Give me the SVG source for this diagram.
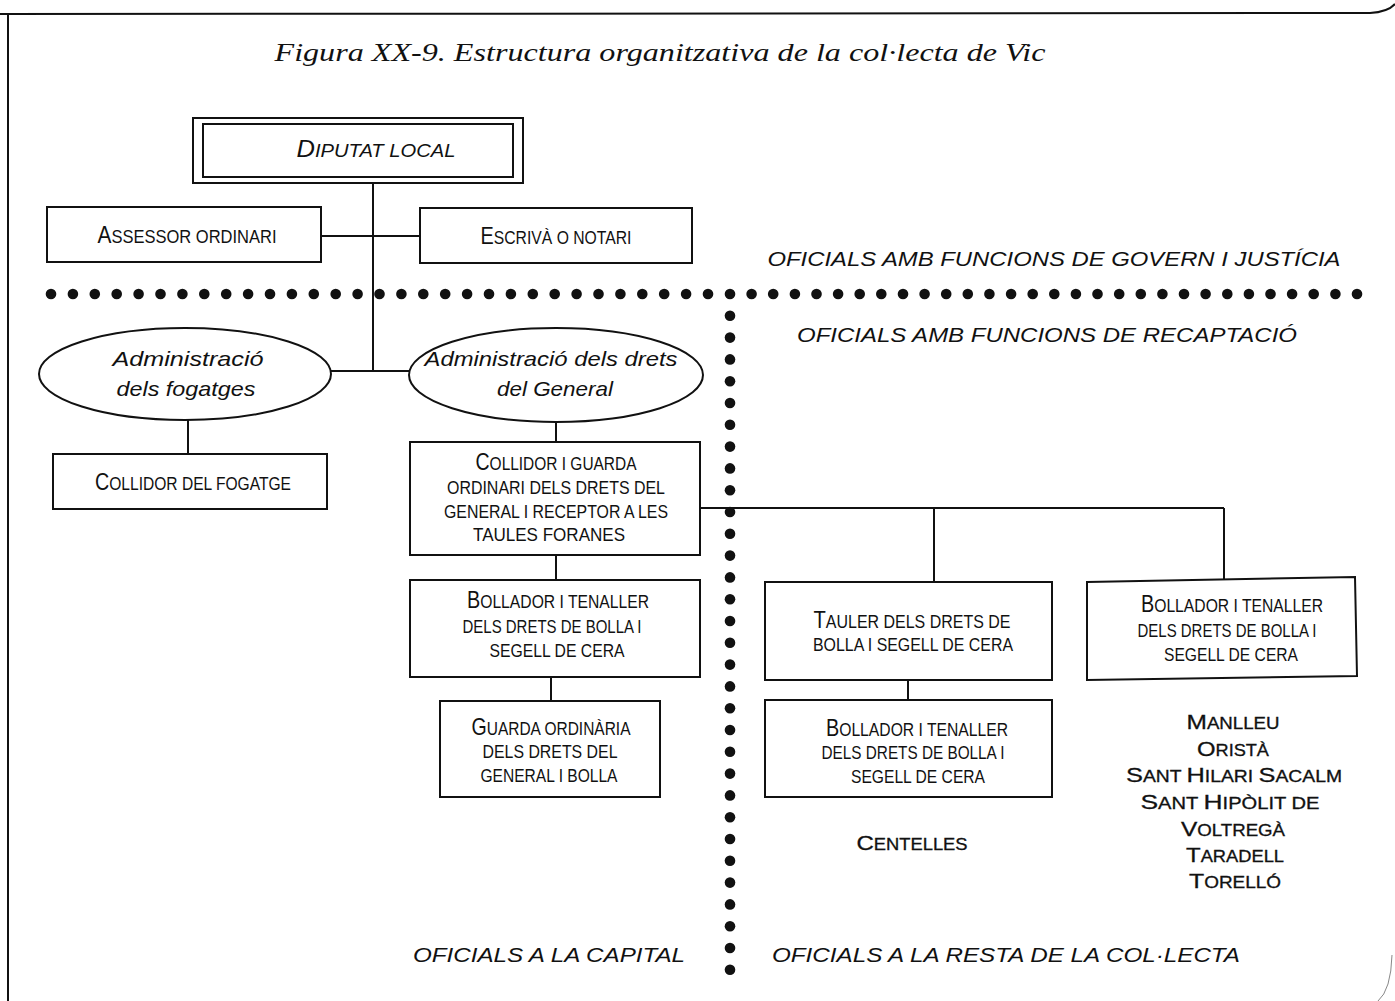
<svg xmlns="http://www.w3.org/2000/svg" width="1395" height="1001" viewBox="0 0 1395 1001">
<style>
.bx{fill:#fff;stroke:#111;stroke-width:2}
.ln{fill:none;stroke:#111;stroke-width:2}
.sc{font-family:"Liberation Sans Narrow","Liberation Sans",sans-serif;font-size:19px;fill:#111;text-anchor:middle}
.sc .B{font-size:24px}
.tw{font-family:"Liberation Sans",Arial,sans-serif;font-size:16px;fill:#111;text-anchor:middle;stroke:#111;stroke-width:0.3}
.tw .B{font-size:21px}
.it{font-family:"Liberation Sans",Arial,sans-serif;font-style:italic;font-size:21px;fill:#111;text-anchor:middle}
.ttl{font-family:"Liberation Serif","Times New Roman",serif;font-style:italic;font-size:26px;fill:#111;text-anchor:middle}
.dot{fill:#111}
</style>
<defs>
<circle id="d" r="5.3" class="dot"/>
</defs>
<rect width="1395" height="1001" fill="#fff"/>
<g id="frame">
<path class="ln" d="M0,14 L1370,13 Q1388,12 1395,4"/>
<path class="ln" d="M8,14 V1001"/>
<path fill="none" stroke="#888" stroke-width="1" d="M1392,955 Q1391,990 1378,1001"/>
</g>
<text class="ttl" x="660" y="61" textLength="771" lengthAdjust="spacingAndGlyphs">Figura XX-9. Estructura organitzativa de la col·lecta de Vic</text>
<g id="separators">
<g id="hdots">
<use href="#d" x="51" y="294"/><use href="#d" x="72.9" y="294"/><use href="#d" x="94.8" y="294"/><use href="#d" x="116.7" y="294"/><use href="#d" x="138.6" y="294"/><use href="#d" x="160.5" y="294"/><use href="#d" x="182.4" y="294"/><use href="#d" x="204.3" y="294"/><use href="#d" x="226.2" y="294"/><use href="#d" x="248.1" y="294"/><use href="#d" x="270" y="294"/><use href="#d" x="291.9" y="294"/><use href="#d" x="313.8" y="294"/><use href="#d" x="335.7" y="294"/><use href="#d" x="357.6" y="294"/><use href="#d" x="379.5" y="294"/><use href="#d" x="401.4" y="294"/><use href="#d" x="423.3" y="294"/><use href="#d" x="445.2" y="294"/><use href="#d" x="467.1" y="294"/><use href="#d" x="489" y="294"/><use href="#d" x="510.9" y="294"/><use href="#d" x="532.8" y="294"/><use href="#d" x="554.7" y="294"/><use href="#d" x="576.6" y="294"/><use href="#d" x="598.5" y="294"/><use href="#d" x="620.4" y="294"/><use href="#d" x="642.3" y="294"/><use href="#d" x="664.2" y="294"/><use href="#d" x="686.1" y="294"/><use href="#d" x="708" y="294"/><use href="#d" x="730" y="294"/>
<use href="#d" x="751.6" y="294"/><use href="#d" x="773.2" y="294"/><use href="#d" x="794.9" y="294"/><use href="#d" x="816.5" y="294"/><use href="#d" x="838.1" y="294"/><use href="#d" x="859.7" y="294"/><use href="#d" x="881.3" y="294"/><use href="#d" x="903" y="294"/><use href="#d" x="924.6" y="294"/><use href="#d" x="946.2" y="294"/><use href="#d" x="967.8" y="294"/><use href="#d" x="989.4" y="294"/><use href="#d" x="1011.1" y="294"/><use href="#d" x="1032.7" y="294"/><use href="#d" x="1054.3" y="294"/><use href="#d" x="1075.9" y="294"/><use href="#d" x="1097.5" y="294"/><use href="#d" x="1119.2" y="294"/><use href="#d" x="1140.8" y="294"/><use href="#d" x="1162.4" y="294"/><use href="#d" x="1184" y="294"/><use href="#d" x="1205.6" y="294"/><use href="#d" x="1227.3" y="294"/><use href="#d" x="1248.9" y="294"/><use href="#d" x="1270.5" y="294"/><use href="#d" x="1292.1" y="294"/><use href="#d" x="1313.7" y="294"/><use href="#d" x="1335.4" y="294"/><use href="#d" x="1357" y="294"/>
</g>
<g id="vdots">
<use href="#d" x="730" y="315.8"/><use href="#d" x="730" y="337.6"/><use href="#d" x="730" y="359.4"/><use href="#d" x="730" y="381.2"/><use href="#d" x="730" y="403"/><use href="#d" x="730" y="424.8"/><use href="#d" x="730" y="446.6"/><use href="#d" x="730" y="468.4"/><use href="#d" x="730" y="490.2"/><use href="#d" x="730" y="512"/><use href="#d" x="730" y="533.8"/><use href="#d" x="730" y="555.6"/><use href="#d" x="730" y="577.4"/><use href="#d" x="730" y="599.2"/><use href="#d" x="730" y="621"/><use href="#d" x="730" y="642.8"/><use href="#d" x="730" y="664.6"/><use href="#d" x="730" y="686.4"/><use href="#d" x="730" y="708.2"/><use href="#d" x="730" y="730"/><use href="#d" x="730" y="751.8"/><use href="#d" x="730" y="773.6"/><use href="#d" x="730" y="795.4"/><use href="#d" x="730" y="817.2"/><use href="#d" x="730" y="839"/><use href="#d" x="730" y="860.8"/><use href="#d" x="730" y="882.6"/><use href="#d" x="730" y="904.4"/><use href="#d" x="730" y="926.2"/><use href="#d" x="730" y="948"/><use href="#d" x="730" y="969.8"/>
</g>
</g>
<g id="connectors">
<path class="ln" d="M373,183 V371"/>
<path class="ln" d="M321,236 H420"/>
<path class="ln" d="M331,371 H410"/>
<path class="ln" d="M188,419 V454"/>
<path class="ln" d="M556,421 V442"/>
<path class="ln" d="M700,508 H1224 M934,508 V582 M1224,508 V580"/>
<path class="ln" d="M556,555 V580"/>
<path class="ln" d="M551,677 V701"/>
<path class="ln" d="M908,680 V700"/>
</g>
<g id="diputat">
<rect class="bx" x="193" y="118" width="330" height="65"/>
<rect class="bx" x="203" y="124" width="310" height="53"/>
<text class="sc" x="376" y="157" font-style="italic" textLength="159" lengthAdjust="spacingAndGlyphs"><tspan class="B">D</tspan>IPUTAT LOCAL</text>
</g>
<g id="assessor">
<rect class="bx" x="47" y="207" width="274" height="55"/>
<text class="sc" x="187" y="243" textLength="179" lengthAdjust="spacingAndGlyphs"><tspan class="B">A</tspan>SSESSOR ORDINARI</text>
</g>
<g id="escriva">
<rect class="bx" x="420" y="208" width="272" height="55"/>
<text class="sc" x="556" y="244" textLength="151" lengthAdjust="spacingAndGlyphs"><tspan class="B">E</tspan>SCRIVÀ O NOTARI</text>
</g>
<text class="it" x="1054" y="266" textLength="573" lengthAdjust="spacingAndGlyphs">OFICIALS AMB FUNCIONS DE GOVERN I JUSTÍCIA</text>
<text class="it" x="1047" y="342" textLength="500" lengthAdjust="spacingAndGlyphs">OFICIALS AMB FUNCIONS DE RECAPTACIÓ</text>
<g id="adm-fogatges">
<ellipse class="bx" cx="185" cy="374" rx="146" ry="46"/>
<text class="it" x="188" y="366" font-size="22" textLength="151" lengthAdjust="spacingAndGlyphs">Administració</text>
<text class="it" x="186" y="396" font-size="22" textLength="139" lengthAdjust="spacingAndGlyphs">dels fogatges</text>
</g>
<g id="adm-general">
<ellipse class="bx" cx="556" cy="375" rx="147" ry="47"/>
<text class="it" x="551" y="366" font-size="22" textLength="253" lengthAdjust="spacingAndGlyphs">Administració dels drets</text>
<text class="it" x="555" y="396" font-size="22" textLength="116" lengthAdjust="spacingAndGlyphs">del General</text>
</g>
<g id="collidor-fogatge">
<rect class="bx" x="53" y="454" width="274" height="55"/>
<text class="sc" x="193" y="490" textLength="196" lengthAdjust="spacingAndGlyphs"><tspan class="B">C</tspan>OLLIDOR DEL FOGATGE</text>
</g>
<g id="collidor-guarda">
<rect class="bx" x="410" y="442" width="290" height="113"/>
<text class="sc" x="556" y="470" textLength="161" lengthAdjust="spacingAndGlyphs"><tspan class="B">C</tspan>OLLIDOR I GUARDA</text>
<text class="sc" x="556" y="494" textLength="218" lengthAdjust="spacingAndGlyphs">ORDINARI DELS DRETS DEL</text>
<text class="sc" x="556" y="518" textLength="224" lengthAdjust="spacingAndGlyphs">GENERAL I RECEPTOR A LES</text>
<text class="sc" x="549" y="541" textLength="152" lengthAdjust="spacingAndGlyphs">TAULES FORANES</text>
</g>
<g id="bollador-capital">
<rect class="bx" x="410" y="580" width="290" height="97"/>
<text class="sc" x="558" y="608" textLength="182" lengthAdjust="spacingAndGlyphs"><tspan class="B">B</tspan>OLLADOR I TENALLER</text>
<text class="sc" x="552" y="633" textLength="179" lengthAdjust="spacingAndGlyphs">DELS DRETS DE BOLLA I</text>
<text class="sc" x="557" y="657" textLength="135" lengthAdjust="spacingAndGlyphs">SEGELL DE CERA</text>
</g>
<g id="guarda-ordinaria">
<rect class="bx" x="440" y="701" width="220" height="96"/>
<text class="sc" x="551" y="735" textLength="159" lengthAdjust="spacingAndGlyphs"><tspan class="B">G</tspan>UARDA ORDINÀRIA</text>
<text class="sc" x="550" y="758" textLength="135" lengthAdjust="spacingAndGlyphs">DELS DRETS DEL</text>
<text class="sc" x="549" y="782" textLength="137" lengthAdjust="spacingAndGlyphs">GENERAL I BOLLA</text>
</g>
<g id="tauler">
<rect class="bx" x="765" y="582" width="287" height="98"/>
<text class="sc" x="912" y="628" textLength="197" lengthAdjust="spacingAndGlyphs"><tspan class="B">T</tspan>AULER DELS DRETS DE</text>
<text class="sc" x="913" y="651" textLength="200" lengthAdjust="spacingAndGlyphs">BOLLA I SEGELL DE CERA</text>
</g>
<g id="bollador-centelles">
<rect class="bx" x="765" y="700" width="287" height="97"/>
<text class="sc" x="917" y="736" textLength="182" lengthAdjust="spacingAndGlyphs"><tspan class="B">B</tspan>OLLADOR I TENALLER</text>
<text class="sc" x="913" y="759" textLength="183" lengthAdjust="spacingAndGlyphs">DELS DRETS DE BOLLA I</text>
<text class="sc" x="918" y="783" textLength="134" lengthAdjust="spacingAndGlyphs">SEGELL DE CERA</text>
</g>
<g id="bollador-pobles">
<polygon class="bx" points="1087,582 1355,577 1357,676 1087,680"/>
<text class="sc" x="1232" y="612" textLength="182" lengthAdjust="spacingAndGlyphs"><tspan class="B">B</tspan>OLLADOR I TENALLER</text>
<text class="sc" x="1227" y="637" textLength="179" lengthAdjust="spacingAndGlyphs">DELS DRETS DE BOLLA I</text>
<text class="sc" x="1231" y="661" textLength="134" lengthAdjust="spacingAndGlyphs">SEGELL DE CERA</text>
</g>
<text class="tw" x="912" y="850" textLength="111" lengthAdjust="spacingAndGlyphs"><tspan class="B">C</tspan>ENTELLES</text>
<g id="pobles">
<text class="tw" x="1233" y="729" textLength="93" lengthAdjust="spacingAndGlyphs"><tspan class="B">M</tspan>ANLLEU</text>
<text class="tw" x="1233" y="756" textLength="72" lengthAdjust="spacingAndGlyphs"><tspan class="B">O</tspan>RISTÀ</text>
<text class="tw" x="1234" y="782" textLength="216" lengthAdjust="spacingAndGlyphs"><tspan class="B">S</tspan>ANT <tspan class="B">H</tspan>ILARI <tspan class="B">S</tspan>ACALM</text>
<text class="tw" x="1230" y="809" textLength="179" lengthAdjust="spacingAndGlyphs"><tspan class="B">S</tspan>ANT <tspan class="B">H</tspan>IPÒLIT DE</text>
<text class="tw" x="1233" y="836" textLength="104" lengthAdjust="spacingAndGlyphs"><tspan class="B">V</tspan>OLTREGÀ</text>
<text class="tw" x="1235" y="862" textLength="98" lengthAdjust="spacingAndGlyphs"><tspan class="B">T</tspan>ARADELL</text>
<text class="tw" x="1235" y="888" textLength="92" lengthAdjust="spacingAndGlyphs"><tspan class="B">T</tspan>ORELLÓ</text>
</g>
<text class="it" x="549" y="962" textLength="272" lengthAdjust="spacingAndGlyphs">OFICIALS A LA CAPITAL</text>
<text class="it" x="1006" y="962" textLength="468" lengthAdjust="spacingAndGlyphs">OFICIALS A LA RESTA DE LA COL·LECTA</text>
</svg>
